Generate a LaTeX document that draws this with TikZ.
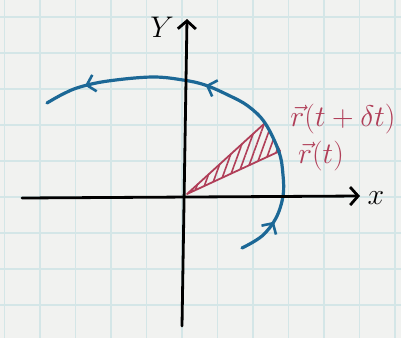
\documentclass[tikz,border=0pt]{standalone}
\usepackage{graphicx}
\usepackage{amsmath,amssymb}
\usepackage{tikz}
\usetikzlibrary{arrows.meta, decorations.markings, patterns.meta, positioning}
\definecolor{paper}{RGB}{241,242,240}
\definecolor{gridc}{RGB}{212,230,231}
\definecolor{orbit}{RGB}{28,104,150}
\definecolor{sweep}{RGB}{176,62,88}
\newcommand{\biglbl}[1]{\scalebox{1.2}{#1}}

\begin{document}
\begin{tikzpicture}[x=1pt, y=-1pt]
    % スタイル定義
    \tikzstyle{gridline} = [draw=gridc, line width=1.3pt]
    \tikzstyle{axis} = [draw, line width=2.8pt, line cap=round, -{Straight Barb[length=8pt,width=18pt,line width=2.8pt]}]
    \tikzstyle{orbitline} = [draw=orbit, line width=3.2pt, line cap=round, postaction={decorate},
        decoration={markings,
            mark=at position 0.11 with {\arrow{Straight Barb[length=8pt,width=17pt,line width=2.6pt]}},
            mark=at position 0.57 with {\arrow{Straight Barb[length=8pt,width=17pt,line width=2.6pt]}},
            mark=at position 0.89 with {\arrow{Straight Barb[length=8pt,width=17pt,line width=2.6pt]}}}]
    \tikzstyle{area} = [draw=sweep, line width=1.8pt, line join=round, pattern={Lines[angle=70,distance=7pt,line width=1.6pt]}, pattern color=sweep]
    \tikzstyle{lbl} = [inner sep=0pt, font=\Huge]

    % 方眼紙
    \fill[paper] (0,0) rectangle (401,338);
    \useasboundingbox (0,0) rectangle (401,338);
    \begin{scope}
        \clip (0,0) rectangle (401,338);
        \foreach \gx in {4.5,40,...,395} \path[gridline] (\gx,0) -- (\gx,338);
        \foreach \gy in {17,53,...,305} \path[gridline] (0,\gy) -- (401,\gy);
    \end{scope}

    % 座標
    \coordinate (o) at (187,194);
    \coordinate (xl) at (22,198);
    \coordinate (xr) at (360,196);
    \coordinate (yb) at (182,326);
    \coordinate (yt) at (187,19);
    \coordinate (rtdt) at (265,123);
    \coordinate (rt) at (280,151);

    % 面積
    \path[area] (o) -- (rtdt) -- (rt) -- cycle;

    % 軌道
    \path[orbitline] plot[smooth, tension=0.6] coordinates {
        (242,248) (262,236) (276,218) (283,196) (283,175) (279,152) (265,123)
        (248,106) (228,95) (205,85) (183,80) (152,77) (108,81) (80,87) (63,94) (47,103)};

    % 軸
    \path[axis] (xl) -- (xr);
    \path[axis] (yb) -- (yt);

    % ラベル
    \node[lbl] (ylabel) at (162,27) {\biglbl{$Y$}};
    \node[lbl] (xlabel) at (376,198) {\biglbl{$x$}};
    \node[lbl, text=sweep] (rtdtlabel) at (343,119) {\biglbl{$\vec{r}(t+\delta t)$}};
    \node[lbl, text=sweep] (rtlabel) at (321,156) {\biglbl{$\vec{r}(t)$}};
\end{tikzpicture}
\end{document}
